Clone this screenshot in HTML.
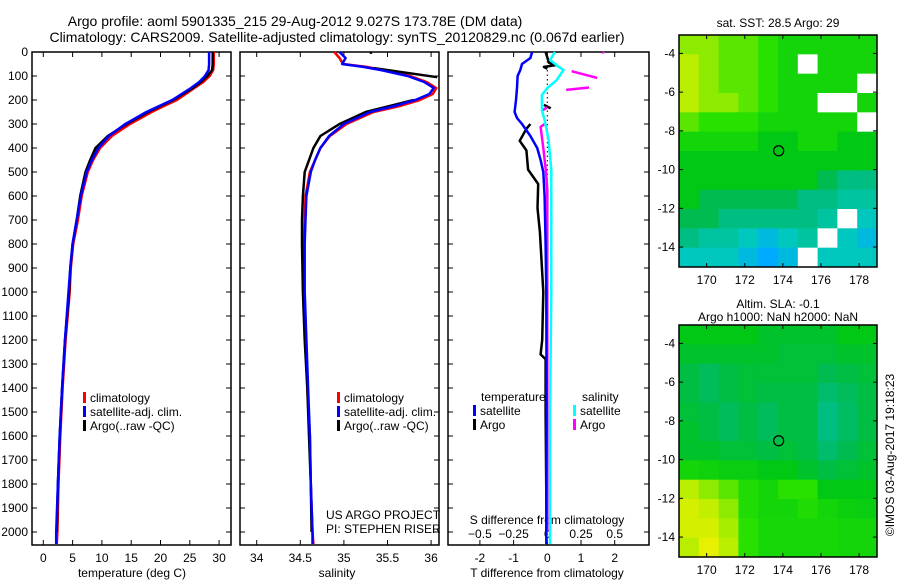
<!DOCTYPE html>
<html><head><meta charset="utf-8"><style>
body{margin:0;background:#fff}
svg{display:block;font-family:"Liberation Sans",sans-serif;font-size:12px}
</style></head><body>
<svg id="s" width="900" height="580" xmlns="http://www.w3.org/2000/svg">
<text x="295" y="26" text-anchor="middle" font-size="14">Argo profile: aoml 5901335_215 29-Aug-2012 9.027S 173.78E (DM data)</text>
<text x="337" y="42" text-anchor="middle" font-size="14">Climatology: CARS2009. Satellite-adjusted climatology: synTS_20120829.nc (0.067d earlier)</text>
<g id="g"></g>
</svg>
<script>
const depths=[0,25,50,75,100,125,150,175,200,225,250,300,350,400,450,500,600,700,800,900,1000,1200,1400,1600,1800,2000,2050];
const climT=[29.1,29.1,29.1,29.0,28.4,27.3,25.8,24.3,22.8,20.6,18.5,14.8,11.7,9.7,8.5,7.6,6.55,5.9,5.1,4.7,4.5,3.8,3.3,2.9,2.6,2.4,2.3];
const satT=[28.3,28.3,28.3,28.2,27.6,26.6,25.2,23.6,22.0,19.8,17.6,14.0,11.2,9.4,8.3,7.4,6.4,5.7,5.0,4.6,4.3,3.7,3.2,2.8,2.5,2.2,2.2];
const argoT=[28.9,28.9,28.9,28.8,28.0,26.9,25.5,23.8,22.2,20.0,17.9,14.2,11.0,8.9,8.0,7.2,6.3,5.7,5.0,4.6,4.4,3.7,3.2,2.8,2.5,2.3,null];
const sDepths=[0,25,50,62,75,100,125,150,175,200,225,250,300,350,400,450,500,600,700,800,900,1000,1200,1400,1600,1800,2000,2050];
const climS=[34.89,34.95,34.99,35.26,35.45,35.76,35.95,36.06,36.02,35.87,35.64,35.34,35.03,34.84,34.73,34.67,34.61,34.56,34.55,34.54,34.54,34.54,34.56,34.58,34.61,34.62,34.64,34.65];
const satS=[34.95,35.02,34.98,35.22,35.42,35.73,35.92,36.03,35.98,35.82,35.58,35.30,35.00,34.83,34.73,34.67,34.62,34.57,34.56,34.55,34.55,34.55,34.57,34.59,34.61,34.62,34.64,34.64];
const argoSDepths=[0,8,null,67,105,null,200,250,300,350,400,500,600,700,800,1000,1200,1400,1600,1800,2000];
const argoS=[35.31,35.31,null,35.34,36.07,null,35.8,35.25,34.95,34.73,34.65,34.55,34.53,34.52,34.52,34.53,34.55,34.58,34.6,34.62,34.63];
const dTDepths=[0,25,50,75,100,150,200,250,275,300,350,400,450,500,600,800,1000,1500,2000,2050];
const dTsat=[-0.45,-0.5,-0.75,-0.8,-0.88,-0.9,-0.93,-0.97,-0.9,-0.75,-0.5,-0.3,-0.2,-0.12,-0.08,-0.05,-0.03,-0.02,-0.03,-0.03];
const dTArgoDepths=[0,45,55,62,70,null,220,235,null,300,320,370,410,490,550,650,750,1000,1200,1260,1280,1500,2000];
const dTArgo=[-0.05,0.05,0.25,-0.1,0.0,null,-0.1,0.1,null,-0.5,-0.62,-0.82,-0.62,-0.57,-0.27,-0.29,-0.22,-0.12,-0.15,-0.2,-0.05,-0.05,-0.02];
const dSDepths=[0,33,60,75,117,150,179,242,283,367,492,700,1000,1500,2050];
const dSsat=[0.057,0.02,0.08,0.12,0.07,0.0,-0.04,-0.04,-0.02,0.01,0.03,0.03,0.03,0.02,0.02];
const dSArgoDepths=[0,5,null,80,108,null,158,148,null,230,245,null,300,312,400,500,575,800,1200,2000];
const dSArgo=[0.41,0.42,null,0.18,0.37,null,0.14,0.31,null,0.0,-0.04,null,-0.02,-0.05,-0.03,-0.01,0.0,0.0,0.0,0.0];
const tTicks=[0,5,10,15,20,25,30];
const sTicks=[34,34.5,35,35.5,36];
const dTTicks=[-2,-1,0,1,2];
const dSTicks=[-0.5,-0.25,0,0.25,0.5];
const dSLabels=["\u22120.5","\u22120.25","0","0.25","0.5"];
const depthTicks=[0,100,200,300,400,500,600,700,800,900,1000,1100,1200,1300,1400,1500,1600,1700,1800,1900,2000];
const lonTicks=[170,172,174,176,178];
const latTicks=[-4,-6,-8,-10,-12,-14];
const sstGrid=[
[8,8,7.5,7.5,7,6.5,6.5,6.5,6.5,6.5],
[8.5,8,7.5,7.5,7,6.5,-1,6.5,6.5,6.5],
[8.5,8,7.5,7.5,7,6.5,6.5,6.5,6.5,-1],
[8.5,8,8,7.5,7,6.5,6.5,-1,-1,6.5],
[7.5,7,7,7,6.5,6.5,6.5,6.5,6.5,-1],
[6.5,6.5,6.5,6.5,6,6,6.5,6.5,6,6],
[6,6,6,6,6,6,6,6,6,6],
[6,6,6,6,6,6,6,5.5,5,5],
[6,5.5,5.5,5.5,5.5,5.5,5,5,4.5,4.5],
[5.5,5.5,5,5,5,5,5,4.5,-1,4],
[5,4.5,4.5,4,3.5,4,4.5,-1,4,3.5],
[4,4,4,3.5,3,3.5,-1,4,4,4]];
const slaGrid=[
[6,6,6,6,5.8,5.8,5.8,5.8,6,6],
[5.8,5.8,5.8,5.8,5.8,5.7,5.7,5.7,5.8,5.8],
[5.6,5.4,5.6,5.7,5.7,5.7,5.7,5.5,5.6,5.7],
[5.6,5.4,5.6,5.7,5.6,5.6,5.6,5.2,5.4,5.6],
[5.7,5.6,5.4,5.6,5.4,5.6,5.6,5,5.3,5.6],
[5.8,5.6,5.4,5.6,5.4,5.6,5.6,5,5.3,5.6],
[5.8,5.8,5.7,5.7,5.6,5.7,5.6,5.2,5.5,5.7],
[6.5,6.4,6.2,6.2,6.0,6.0,5.8,5.6,5.7,5.8],
[8.5,8,7.5,6.8,6.5,7,7,6,6,6],
[8.8,8.6,8,6.8,6.5,6.5,6.8,6.5,6.3,6.2],
[8.8,8.8,8.3,7,6.6,6.6,6.6,6.6,6.5,6.5],
[8.5,9,8.5,7,6.6,6.6,6.6,6.6,6.5,6.5]];
const argoLon=173.78, argoLat=-9.027;

const NS="http://www.w3.org/2000/svg";
const G=document.getElementById('g');
function mk(t,a,p){const e=document.createElementNS(NS,t);for(const k in a)e.setAttribute(k,a[k]);(p||G).appendChild(e);return e;}
const Y0=52,Y1=545;
const yD=d=>Y0+d*0.24;
function frame(x0,x1,y0,y1,name){const r=mk('rect',{x:x0,y:y0,width:x1-x0,height:y1-y0,fill:'none',stroke:'#000','stroke-width':1.5});

return r;}
function line(xs,ys,col,w,name,dash){let d='',pen=false;for(let i=0;i<xs.length;i++){if(xs[i]==null||ys[i]==null){pen=false;continue;}d+=(pen?'L':'M')+xs[i].toFixed(1)+' '+ys[i].toFixed(1);pen=true;}
const p=mk('path',{d:d,fill:'none',stroke:col,'stroke-width':w,'stroke-linejoin':'round'});if(dash)p.setAttribute('stroke-dasharray',dash);

return p;}
function txt(x,y,s,name,anchor,extra){const t=mk('text',Object.assign({x:x,y:y,'text-anchor':anchor||'start'},extra||{}));t.textContent=s;

return t;}
function tk(x1,y1,x2,y2){const l=mk('line',{x1:x1,y1:y1,x2:x2,y2:y2,stroke:'#000','stroke-width':1});

}
function depthTicksOn(x0,x1){depthTicks.forEach(d=>{tk(x0,yD(d),x0+5,yD(d));tk(x1,yD(d),x1-5,yD(d));});}
function legend(x,y,items){items.forEach((it,i)=>{const r=mk('rect',{x:x,y:y+i*14-10,width:3,height:11,fill:it[0]});


txt(x+7,y+i*14,it[1],'legend-entry');});}

const xT=t=>43.3+t*5.86;
frame(32,231,Y0,Y1,'temperature-plot-frame');
depthTicksOn(32,231);
depthTicks.forEach(d=>txt(28,yD(d)+4,String(d),'depth-tick-label','end'));
tTicks.forEach(t=>{tk(xT(t),Y1,xT(t),Y1-5);tk(xT(t),Y0,xT(t),Y0+5);txt(xT(t),562,String(t),'temperature-tick-label','middle');});
txt(132,577,'temperature (deg C)','temperature-axis-title','middle');
line(climT.map(xT),depths.map(yD),'#f00',2.5,'climatology-temperature-line');
line(argoT.map(v=>v==null?null:xT(v)),depths.map(yD),'#000',2.5,'argo-temperature-line');
line(satT.map(xT),depths.map(yD),'#00f',2.5,'satellite-temperature-line');
legend(83,402,[['#f00','climatology'],['#00f','satellite-adj. clim.'],['#000','Argo(..raw -QC)']]);

const xS=s=>256.7+(s-34)*87.2;
frame(240,439,Y0,Y1,'salinity-plot-frame');
depthTicksOn(240,439);
sTicks.forEach(s=>{tk(xS(s),Y1,xS(s),Y1-5);tk(xS(s),Y0,xS(s),Y0+5);txt(xS(s),562,String(s),'salinity-tick-label','middle');});
txt(337,577,'salinity','salinity-axis-title','middle');
line(climS.map(xS),sDepths.map(yD),'#f00',2.5,'climatology-salinity-line');
line(argoS.map(v=>v==null?null:xS(v)),argoSDepths.map(v=>v==null?null:yD(v)),'#000',2.5,'argo-salinity-line');
line(satS.map(xS),sDepths.map(yD),'#00f',2.5,'satellite-salinity-line');
legend(337,402,[['#f00','climatology'],['#00f','satellite-adj. clim.'],['#000','Argo(..raw -QC)']]);
txt(326,519,'US ARGO PROJECT','project-label');
txt(326,533,'PI: STEPHEN RISER','pi-label');

const xdT=t=>547.3+t*33.7, xdS=s=>547.3+s*134.8;
frame(448,649,Y0,Y1,'difference-plot-frame');
depthTicksOn(448,649);
dTTicks.forEach(t=>{tk(xdT(t),Y1,xdT(t),Y1-5);tk(xdT(t),Y0,xdT(t),Y0+5);txt(xdT(t),562,String(t),'t-difference-tick-label','middle');});
dSTicks.forEach((s,i)=>txt(xdS(s),538,dSLabels[i],'s-difference-tick-label','middle'));
txt(547,577,'T difference from climatology','t-difference-axis-title','middle');
txt(547,524,'S difference from climatology','s-difference-axis-title','middle');
line([xdT(0),xdT(0)],[Y0,Y1],'#000',1,'zero-line','1.5,3');
line(dTArgo.map(v=>v==null?null:xdT(v)),dTArgoDepths.map(v=>v==null?null:yD(v)),'#000',2.5,'argo-t-difference-line');
line(dSArgo.map(v=>v==null?null:xdS(v)),dSArgoDepths.map(v=>v==null?null:yD(v)),'#f0f',2.5,'argo-s-difference-line');
line(dTsat.map(xdT),dTDepths.map(yD),'#00f',2.5,'satellite-t-difference-line');
line(dSsat.map(xdS),dSDepths.map(yD),'#0ff',2.5,'satellite-s-difference-line');
txt(481,401,'temperature','legend-title-temperature');
txt(582,401,'salinity','legend-title-salinity');
legend(473,415,[['#00f','satellite'],['#000','Argo']]);
legend(573,415,[['#0ff','satellite'],['#f0f','Argo']]);

const LON0=168.55,LON1=178.94,LAT0=-3.05,LAT1=-15.03,MX0=679,MX1=877;
const stops=[[3,[0,170,255]],[4,[0,200,190]],[5,[0,190,130]],[5.5,[0,188,80]],[6,[0,200,20]],[7,[40,225,0]],[8,[140,235,0]],[9,[230,240,0]]];
function cmap(v){if(v<0)return '#fff';if(v<=stops[0][0])return 'rgb('+stops[0][1]+')';
for(let i=1;i<stops.length;i++){if(v<=stops[i][0]){const a=stops[i-1],b=stops[i],f=(v-a[0])/(b[0]-a[0]);return 'rgb('+a[1].map((c,j)=>Math.round(c+(b[1][j]-c)*f)).join(',')+')';}}return 'rgb('+stops[stops.length-1][1]+')';}
function map(my0,my1,grid,name,title1,title2){
 const xL=l=>MX0+(l-LON0)/(LON1-LON0)*(MX1-MX0), yL=l=>my0+(l-LAT0)/(LAT1-LAT0)*(my1-my0);
 const nr=grid.length,nc=grid[0].length,dl=(LON1-LON0)/nc,da=(LAT1-LAT0)/nr;
 grid.forEach((row,r)=>row.forEach((v,c)=>{const x=xL(LON0+c*dl),y=yL(LAT0+r*da);
  const e=mk('rect',{x:x.toFixed(2),y:y.toFixed(2),width:(xL(LON0+(c+1)*dl)-x+0.4).toFixed(2),height:(yL(LAT0+(r+1)*da)-y+0.4).toFixed(2),fill:cmap(v)});
  
  }));
 frame(MX0,MX1,my0,my1,name+'-frame');
 lonTicks.forEach(l=>{tk(xL(l),my1,xL(l),my1-4);tk(xL(l),my0,xL(l),my0+4);txt(xL(l),my1+17,String(l),'longitude-tick-label','middle');});
 latTicks.forEach(l=>{tk(MX0,yL(l),MX0+4,yL(l));tk(MX1,yL(l),MX1-4,yL(l));txt(675,yL(l)+4,String(l),'latitude-tick-label','end');});
 const c=mk('circle',{cx:xL(argoLon),cy:yL(argoLat),r:5,fill:'none',stroke:'#000','stroke-width':1.2});
 
 
 if(title2){txt(778,my0-17,title1,name+'-title','middle');txt(778,my0-4,title2,name+'-subtitle','middle');}
 else txt(778,my0-8,title1,name+'-title','middle');
}
map(35,267,sstGrid,'sst-map','sat. SST: 28.5 Argo: 29');
map(325,557,slaGrid,'sla-map','Altim. SLA: -0.1','Argo h1000: NaN h2000: NaN');
txt(0,0,'\u00a9IMOS 03-Aug-2017 19:18:23','timestamp-label','middle',{transform:'translate(894,455) rotate(-90)'});
</script>
</body></html>
